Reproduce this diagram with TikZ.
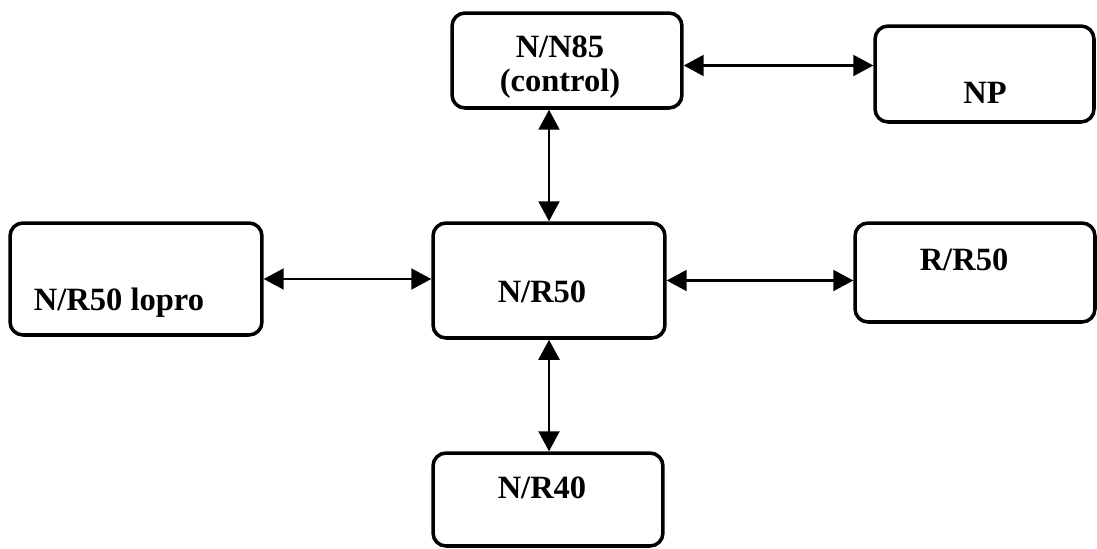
\documentclass[tikz,border=0pt]{standalone}
\usepackage{fontspec}
\setmainfont{Liberation Serif}
\usetikzlibrary{calc,arrows.meta}

\tikzset{
  box/.style={draw, line width=2pt, rounded corners=0.26cm, inner sep=0pt},
  txt/.style={anchor=base, inner sep=0pt, font=\fontsize{18.5}{20}\selectfont\bfseries},
  link/.style={{Triangle[length=0.4cm,width=0.42cm]}-{Triangle[length=0.4cm,width=0.42cm]}, line width=1.2pt}
}

\begin{document}
\begin{tikzpicture}[x=0.02cm,y=-0.02cm]
        \useasboundingbox (0,0) rectangle (1097,548);
        % boxes
        \node[box, minimum width=4.6cm, minimum height=1.9cm] (n85) at (567,60.5) {};
        \node[box, minimum width=4.38cm, minimum height=1.92cm] (np) at (984.5,74) {};
        \node[box, minimum width=5.04cm, minimum height=2.24cm] (lopro) at (136,279) {};
        \node[box, minimum width=4.64cm, minimum height=2.3cm] (nr50) at (549,280.5) {};
        \node[box, minimum width=4.8cm, minimum height=1.98cm] (rr50) at (975,272.5) {};
        \node[box, minimum width=4.6cm, minimum height=1.86cm] (nr40) at (548,499.5) {};

        % texts
        \node[txt] (n85a) at (560,57) {N/N85};
        \node[txt] (n85b) at (560,91) {(control)};
        \node[txt] (npt) at (985,103) {NP};
        \node[txt] (loprot) at (119,310) {N/R50 lopro};
        \node[txt] (nr50t) at (542,302) {N/R50};
        \node[txt] (rr50t) at (964,270) {R/R50};
        \node[txt] (nr40t) at (542,498) {N/R40};

        % links
        \coordinate (t1) at ($(n85.east)+(0,5)$);
        \draw[link] (t1) -- (t1 -| np.west);
        \draw[link] (nr50.north |- n85.south) -- (nr50.north);
        \draw[link] (lopro.east) -- (lopro.east -| nr50.west);
        \draw[link] (nr50.east) -- (nr50.east -| rr50.west);
        \draw[link] (nr50.south) -- (nr50.south |- nr40.north);
\end{tikzpicture}
\end{document}
